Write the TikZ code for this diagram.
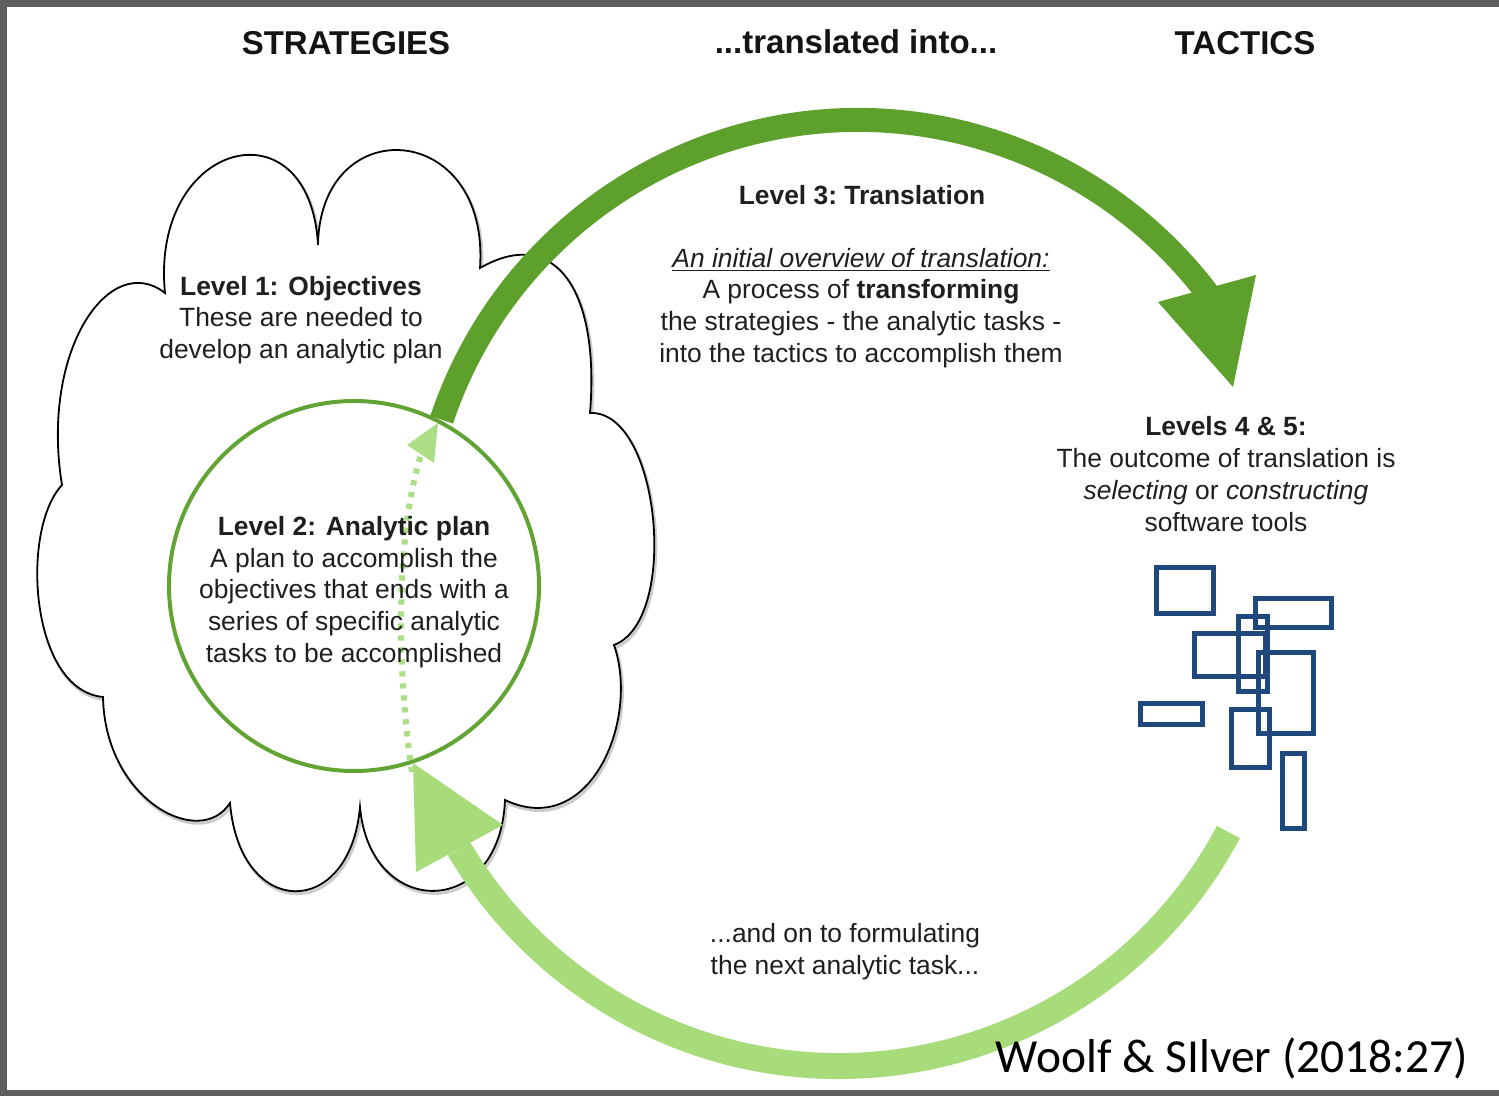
\documentclass[tikz,border=0pt]{standalone}
\usepackage{fontspec}
\setmainfont{Liberation Sans}
\newfontfamily\calibfont{Carlito}
\definecolor{dkgreen}{RGB}{94,160,44}
\definecolor{ltgreen}{RGB}{168,220,122}
\definecolor{dotgreen}{RGB}{172,222,134}
\definecolor{circgreen}{RGB}{98,164,52}
\definecolor{toolblue}{RGB}{31,73,125}
\definecolor{framegray}{RGB}{95,95,95}
\def\cloudpath{(165,293)
 .. controls (150,140) and (310,100) .. (318,245)
 .. controls (320,110) and (490,120) .. (480,268)
 .. controls (555,225) and (600,290) .. (590,413)
 .. controls (660,410) and (680,620) .. (614,645)
 .. controls (640,720) and (590,840) .. (505,800)
 .. controls (500,920) and (370,920) .. (360,807)
 .. controls (350,920) and (240,920) .. (230,803)
 .. controls (200,850) and (105,800) .. (103,697)
 .. controls (30,690) and (20,530) .. (62,485)
 .. controls (40,350) and (110,250) .. cycle}
\begin{document}
\begin{tikzpicture}[x=0.5pt,y=-0.5pt,
  body/.style={align=center, font=\fontsize{13.2}{15.9}\selectfont, text=black!88, inner sep=0pt},
  head/.style={font=\fontsize{16.5}{20}\selectfont\bfseries, text=black!92, inner sep=0pt, anchor=base},
  tool/.style={draw=toolblue, line width=2.5pt},
]
\useasboundingbox (0,0) rectangle (1499,1096);
% frame
\fill[framegray] (0,0) rectangle (1499,1096);
\fill[white] (7,7) rectangle (1499,1090);

% cloud (Level 1)
\draw[black!40, line width=1.5pt, opacity=0.5, shift={(1.5,2.5)}] \cloudpath;
\draw[black, line width=0.9pt, fill=white] \cloudpath;

% circle (Level 2)
\node[circle, draw=circgreen, line width=2pt, minimum size=185pt, inner sep=0pt] (plan) at (354,586) {};

% dotted arrow inside circle
\coordinate (dotS) at (412,772);
\coordinate (dotE) at (421,455);
\draw[dotgreen, line width=3pt, dash pattern=on 2.6pt off 3.4pt] (dotS) .. controls (398,680) and (394,540) .. (dotE);
\fill[dotgreen] (438,423) -- (407,445) -- (434,463) -- cycle;

% dark green arrow (Level 3 translation)
\coordinate (trS) at (441.7,419.7);
\draw[dkgreen, line width=12pt] (trS) arc[start angle=198.5, end angle=323, radius=439];
\fill[dkgreen] (1158,302) -- (1256,275) -- (1233,387) -- cycle;

% light green arrow (return)
\coordinate (rtS) at (1228.4,832);
\draw[ltgreen, line width=13pt] (rtS) arc[start angle=28, end angle=149.5, radius=441];
\fill[ltgreen] (413,763) -- (503,825) -- (416,872) -- cycle;

% software tools (rectangles)
\draw[tool] (1156,567) rectangle (1213,613);
\draw[tool] (1255,598) rectangle (1331,627);
\draw[tool] (1238,616) rectangle (1267,691);
\draw[tool] (1194,633) rectangle (1265,676);
\draw[tool] (1258,652) rectangle (1313,733);
\draw[tool] (1140,703) rectangle (1202,724);
\draw[tool] (1231,709) rectangle (1269,767);
\draw[tool] (1282,753) rectangle (1304,828);

% headings
\node[head] (hstrat) at (346,55) {STRATEGIES};
\node[head] (htrans) at (856,54) {...translated into...};
\node[head] (htact) at (1245,55) {TACTICS};

% texts
\node[body] (t1) at (301,320) {\textbf{Level 1: Objectives}\\These are needed to\\develop an analytic plan};
\node[body] (t2) at (354,592) {\textbf{Level 2: Analytic plan}\\A plan to accomplish the\\objectives that ends with a\\series of specific analytic\\tasks to be accomplished};
\node[body] (t3h) at (862,195) {\textbf{Level 3:\ Translation}};
\node[body] (t3) at (861,308) {\underline{\textit{An initial overview of translation:}}\\A process of \textbf{transforming}\\the strategies - the analytic tasks -\\into the tactics to accomplish them};
\node[body] (t4) at (1226,474) {\textbf{Levels 4 \& 5:}\\The outcome of translation is\\\textit{selecting} or \textit{constructing}\\software tools};
\node[body] (t5) at (845,952) {...and on to formulating\\the next analytic task...};
\node[anchor=base, inner sep=0pt, font=\calibfont\fontsize{23.75}{28}\selectfont] (cite) at (1232,1072) {Woolf \& SIlver (2018:27)};
\end{tikzpicture}
\end{document}
